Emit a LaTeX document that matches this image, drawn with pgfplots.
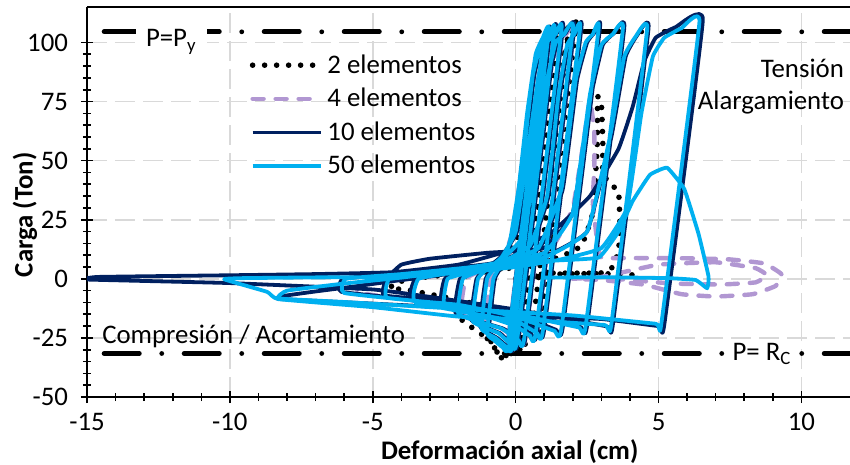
\documentclass[border=0pt]{standalone}
\usepackage{fontspec}
\setmainfont{Carlito}
\usepackage{pgfplots}
\pgfplotsset{compat=1.18}
\usetikzlibrary{calc}
\definecolor{lblue}{RGB}{0,176,240}
\definecolor{navy}{RGB}{0,32,96}
\definecolor{lav}{RGB}{177,151,210}
\definecolor{gridgray}{RGB}{217,217,217}
\newcommand{\ff}{\fontsize{13.4}{16}\selectfont}
\begin{document}
\begin{tikzpicture}
\begin{axis}[
 scale only axis, width=381.5pt, height=195pt,
 xmin=-15, xmax=11.7, ymin=-50, ymax=115,
 axis lines=left, axis line style={-, line width=1pt, black},
 enlargelimits=false,
 xtick={-15,-10,-5,0,5,10}, ytick={-50,-25,0,25,50,75,100},
 minor x tick num=4, minor y tick num=4,
 tick align=center, major tick length=6pt, minor tick length=4pt,
 tick style={black, line width=0.8pt},
 grid=major, major grid style={gridgray, line width=0.8pt, dash pattern=on 10pt off 4pt},
 /pgf/number format/assume math mode=true,
 ticklabel style={font=\ff},
 yticklabel style={xshift=-3pt},
 xticklabel style={yshift=-4pt, inner sep=1pt},
 xlabel={Deformación axial (cm)}, ylabel={Carga (Ton)},
 label style={font=\bfseries\ff},
 xlabel style={at={(axis description cs:0.554,-0.139)}, anchor=center, inner sep=0pt},
 ylabel style={at={(axis description cs:-0.0813,0.467)}, anchor=center},
 legend style={at={(axis description cs:0.205,0.9)}, anchor=north west, draw=none, fill=none,
   font=\ff, row sep=2pt, cells={anchor=west}},
 legend image code/.code={\draw[#1] (0pt,0pt) -- (34pt,0pt);},
 every axis plot/.append style={smooth, tension=0.2, line join=round},
]
% reference lines
\addplot[forget plot, black, line width=2.4pt, line cap=round, dash pattern=on 17.6pt off 11.2pt on 0pt off 11.2pt, sharp plot] coordinates {(-14.4,104.5) (11.7,104.5)};
\addplot[forget plot, black, line width=2.4pt, line cap=round, dash pattern=on 17.6pt off 11.2pt on 0pt off 11.2pt, sharp plot] coordinates {(-14.4,-31.6) (11.7,-31.6)};

% 2 elementos
\addplot[black, line width=2.8pt, line cap=round, dash pattern=on 0pt off 6pt] coordinates {
(0,0) (0.4,33) (0.15,8) (-0.25,-29) (0.05,0) (0.6,48)
(1.05,88) (1.3,100) (1.5,104)
(0.2,-27) (-0.1,-31) (-0.45,-34) (-0.75,-29) (-1.0,-25)
(-0.75,0) (-0.3,8) (0.2,22) (0.65,55) (1.05,88) (1.4,101) (1.65,104) (1.85,105.5)
(0.55,-24) (0.25,-27) (-0.25,-32) (-0.55,-33) (-0.9,-26) (-2,-16)
(-1.85,0) (-1,4) (0.1,10) (0.8,30) (1.35,70) (1.7,96) (1.95,104) (2.1,106.5)
(0.85,-21) (0.55,-21) (0.42,-18.5) (0,-15) (-2,-9) (-3.9,-4.4) (-4.4,-4.4)
(-4.2,-1.5) (-3,1) (-1,3) (0.5,6) (1.5,9) (2.3,14) (2.7,28) (2.85,55) (2.87,77) (3.0,74) (3.05,58) (3.05,45) (3.3,40) (3.6,37) (3.65,22) (3.6,12) (3.4,5) (3,2.5) (2,2.4) (1.1,2.4) (0.6,1) (1.5,2) (3,2.2) (4.4,1.5)
};
\addlegendentry{2 elementos}

% 4 elementos
\addplot[lav, line width=2.2pt, line cap=round, dash pattern=on 5.5pt off 6pt] coordinates {
(0,0) (0.33,32) (-0.28,-27) (0,0) (0.5,48) (0.85,88) (1.05,100) (1.25,104)
(0.0,-26) (-0.25,-29) (-0.65,-26) (-1.1,-22)
(-0.88,0) (-0.5,7) (-0.1,20) (0.3,55) (0.7,90) (1.1,101) (1.45,104) (1.65,105.5)
(0.35,-24.5) (0.1,-26) (-0.5,-21) (-1.9,-15)
(-1.75,0) (-1.1,4) (-0.4,9) (0.3,18) (0.8,48) (1.2,86) (1.5,100) (1.8,104) (2.05,106)
(0.75,-22.5) (0.5,-23.5) (0,-19) (-2,-12) (-5.5,-5.9)
(-5.3,-2) (-3,1) (-0.5,5) (1.2,12) (2.0,30) (2.4,60) (2.6,76) (2.75,62) (2.75,46) (2.7,33) (2.85,16) (3.0,9)
(4,8.8) (6,8.7) (7.5,8.2) (8.7,6.5) (9.3,2) (9.1,-3) (8.3,-6.5) (7,-7.5) (5.8,-6.5) (4.5,-2.5) (3,-0.5) (2,0)
(3,0.8) (5,6) (7,7) (8.4,4.5) (8.8,1.5) (8.4,-1.5) (7.2,-2.4) (5.5,-2) (4,-0.5) (3,0.3)
};
\addlegendentry{4 elementos}

% 10 elementos
\addplot[navy, line width=1.9pt] coordinates {
(0,0) (0.32,31) (0.05,5) (-0.22,-24) (0,0) (0.47,46)
(0.78,81) (0.98,98) (1.08,102)
(-0.15,-27) (-0.4,-29) (-0.7,-26) (-0.95,-23)
(-0.73,0) (-0.45,6) (-0.15,16) (0.15,38) (0.45,70) (0.75,95) (1.0,102) (1.2,104)
(-0.05,-27) (-0.25,-29) (-0.65,-25) (-1.25,-20)
(-1.05,0) (-0.75,5) (-0.3,12) (0.05,25) (0.35,55) (0.65,86) (0.95,100) (1.25,103.5) (1.4,105)
(0.1,-26) (-0.1,-28) (-0.55,-23) (-1.55,-17.5)
(-1.37,0) (-1.0,4.5) (-0.5,9.5) (0.05,20) (0.45,52) (0.85,86) (1.15,100) (1.45,104) (1.65,105.5)
(0.35,-24.5) (0.15,-25.5) (-0.45,-21) (-2.1,-14.5)
(-1.95,0) (-1.2,4) (-0.5,8.5) (0.25,17) (0.75,45) (1.15,84) (1.45,100) (1.75,104) (2.05,106)
(0.75,-22.5) (0.55,-23.5) (0.05,-19.5) (-1.0,-15) (-2.6,-11)
(-2.48,0) (-1.5,3.5) (-0.5,7.5) (0.55,14) (1.15,35) (1.55,78) (1.85,99) (2.1,104) (2.3,106)
(1.0,-21.5) (0.8,-22.5) (0.05,-17) (-3.6,-9)
(-3.5,0) (-2,3.5) (-0.5,7.5) (0.85,13) (1.65,38) (2.15,84) (2.5,100) (2.75,104) (2.95,106)
(1.65,-20.5) (1.4,-21.5) (0.05,-15) (-2,-10) (-4.6,-7)
(-4.52,0) (-4.0,6) (-3,8.5) (-1,11) (1.0,13) (2.0,28) (2.65,78) (3.05,99) (3.45,104) (3.8,106)
(2.5,-19.8) (2.25,-20.3) (0.05,-14.5) (-3,-9.5) (-6.1,-5.5)
(-6.04,0) (-4,2.5) (-1.5,5.5) (1,9.5) (2.5,20) (3.35,60) (3.85,94) (4.25,103) (4.65,106)
(3.4,-19.5) (3.15,-20) (0,-13) (-2.5,-8.5) (-5,-4.5) (-10,-1.8) (-15,-0.3)
(-14.6,0.8) (-10,1.5) (-7,2.0) (-4.3,2.8) (-2,6) (-0.2,12) (1.2,19) (2.6,35) (3.6,55) (4.1,73) (4.5,92) (4.9,102) (5.6,106.5) (6.55,109.5)
(5.2,-19.5) (5.0,-20) (3,-17) (0,-15.5) (-2,-12.4) (-5,-10.5) (-8.3,-8.5)
(-8.1,-7.2) (-7.1,-5.5) (-5.5,-3) (-4.3,-1) (-3,1) (-1.5,3.5)
};
\addlegendentry{10 elementos}

% 50 elementos
\addplot[lblue, line width=1.9pt] coordinates {
(0,0) (0.3,30) (0.05,5) (-0.25,-25) (0,0) (0.45,45)
(0.75,80) (0.95,98) (1.05,101)
(-0.2,-27) (-0.45,-29) (-0.75,-26) (-1.0,-23)
(-0.78,0) (-0.5,6) (-0.2,16) (0.1,38) (0.4,70) (0.7,95) (0.95,102) (1.15,104)
(-0.1,-27) (-0.3,-29) (-0.7,-25) (-1.2,-21)
(-1.0,0) (-0.7,5) (-0.3,12) (0,25) (0.3,55) (0.6,86) (0.9,100) (1.2,103.5) (1.35,104.5)
(0.05,-26) (-0.15,-28) (-0.6,-23) (-1.5,-18)
(-1.32,0) (-1.0,4) (-0.5,9) (0,20) (0.4,52) (0.8,86) (1.1,100) (1.4,103.5) (1.6,105)
(0.3,-25) (0.1,-26) (-0.5,-21) (-2.0,-15)
(-1.85,0) (-1.2,3.5) (-0.5,8) (0.2,17) (0.7,45) (1.1,84) (1.4,100) (1.7,103.5) (2.0,105.5)
(0.7,-23) (0.5,-24) (0,-20) (-1.0,-16) (-2.5,-12)
(-2.38,0) (-1.5,3) (-0.5,7) (0.5,14) (1.1,35) (1.5,78) (1.8,99) (2.05,103.5) (2.25,105.5)
(0.95,-22) (0.75,-23) (0,-18) (-3.5,-10)
(-3.4,0) (-2,3) (-0.5,7) (0.8,13) (1.6,38) (2.1,84) (2.45,100) (2.7,103.5) (2.9,105.5)
(1.6,-21) (1.35,-22) (0,-16) (-2,-11) (-4.5,-8)
(-4.42,0) (-3,2.5) (-1,6) (1.0,11) (2.0,28) (2.6,78) (3.0,99) (3.4,103.5) (3.75,105.5)
(2.45,-20) (2.2,-20.5) (0,-15) (-3,-10) (-6,-6)
(-5.94,0) (-4,2) (-1.5,5) (1,9) (2.5,20) (3.3,60) (3.8,94) (4.2,102.5) (4.6,105.5)
(3.35,-19) (3.1,-19.5) (0,-17) (-2,-16) (-5,-12) (-8.3,-8.6) (-8.7,-5.5) (-10.2,-0.2)
(-9.5,0.3) (-7,0.6) (-4.4,0.8) (-2,2.5) (0,5) (1.5,8) (3,13) (3.9,30) (4.4,70) (4.8,94) (5.2,102) (5.8,106) (6.43,108.5)
(5.1,-18.8) (4.9,-19) (2,-15.5) (-2.3,-12.5) (-6,-9.8) (-8.3,-8.3)
(-8.0,-5) (-6,-2) (-4,0.5) (-2,3.5) (0,5.5) (1.0,7.5) (2.9,9) (3.6,20) (4.1,33) (4.7,44) (5.3,47) (5.9,38) (6.4,19) (6.75,1) (6.7,-4) (6.3,-0.5) (5.3,0.3) (2.9,0.7) (1.0,0.5)
};
\addlegendentry{50 elementos}

\draw[line width=1pt] (rel axis cs:0,1) -- (rel axis cs:1,1);
\node[fill=white, inner xsep=5pt, inner ysep=2pt, anchor=base, font=\ff] at (axis cs:-12.05,98.2) {P=P\textsubscript{y}};
\node[fill=white, inner xsep=4pt, inner ysep=2pt, anchor=base, font=\ff] at (axis cs:8.62,-34.4) {P= R\textsubscript{C}};
\node[anchor=base east, inner sep=0pt, font=\ff] at (axis cs:11.5,85) {Tensión};
\node[anchor=base east, inner sep=0pt, font=\ff] at (axis cs:11.5,71.5) {Alargamiento};
\node[anchor=base west, inner sep=0pt, font=\ff] at (axis cs:-14.48,-27.2) {Compresión / Acortamiento};
\end{axis}
\pgfresetboundingbox
\path[use as bounding box] ($(current axis.south west)+(-43.5pt,-34pt)$) rectangle ($(current axis.north east)+(0pt,3.5pt)$);
\end{tikzpicture}
\end{document}
